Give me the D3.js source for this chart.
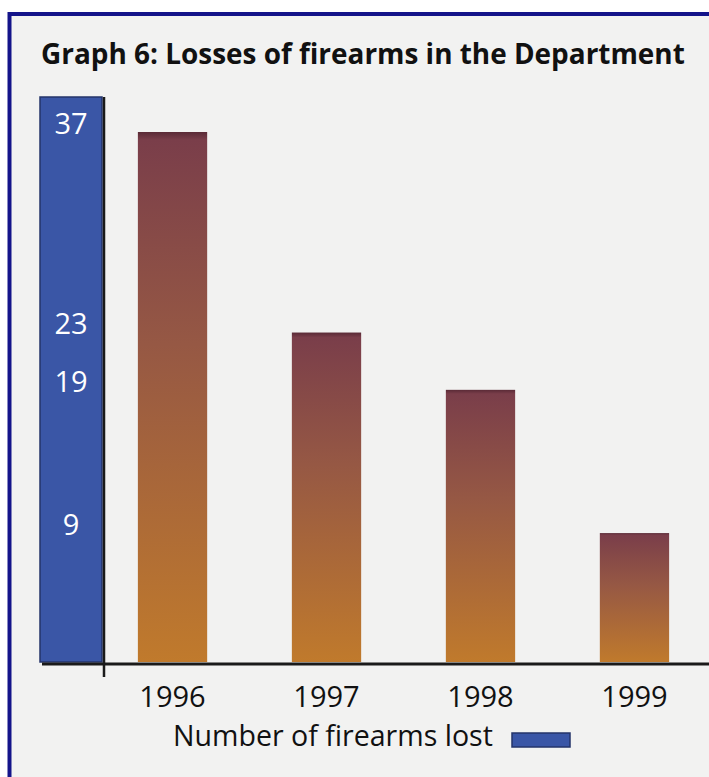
<!DOCTYPE html>
<html>
<head>
<meta charset="utf-8">
<script src="https://cdn.jsdelivr.net/npm/d3@7"></script>
<style>
  html, body { margin: 0; padding: 0; background: #ffffff; }
  svg { display: block; }
</style>
</head>
<body>
<script>
// Firearms lost per year
const years = ["1996", "1997", "1998", "1999"];
const firearmsLost = [37, 23, 19, 9];
const tickValues = [37, 23, 19, 9];
const titleText = "Graph 6: Losses of firearms in the Department";
const legendText = "Number of firearms lost";

const W = 709, H = 777;
const font = "'Open Sans', 'Noto Sans', sans-serif";

const svg = d3.select("body").append("svg")
  .attr("width", W).attr("height", H);

// Scale a text's font size so that it spans the given width
function fitWidth(sel, width) {
  const node = sel.node();
  const fs = parseFloat(sel.attr("font-size"));
  const w = node.getComputedTextLength();
  if (w > 0) sel.attr("font-size", (fs * width / w).toFixed(2));
  return sel;
}

const defs = svg.append("defs");
const grad = defs.append("linearGradient")
  .attr("id", "barFill")
  .attr("x1", 0).attr("y1", 0).attr("x2", 0).attr("y2", 1);
grad.append("stop").attr("offset", "0%").attr("stop-color", "#5a2a36");
grad.append("stop").attr("offset", "1.5%").attr("stop-color", "#7a3e4a");
grad.append("stop").attr("offset", "40%").attr("stop-color", "#965844");
grad.append("stop").attr("offset", "100%").attr("stop-color", "#c07a2c");

// Page panel with the navy frame on top and left
svg.append("rect")
  .attr("x", 8).attr("y", 12).attr("width", W - 8).attr("height", H - 12)
  .attr("fill", "#f2f2f1");
svg.append("line")
  .attr("x1", 8).attr("x2", W).attr("y1", 14).attr("y2", 14)
  .attr("stroke", "#14148a").attr("stroke-width", 4);
svg.append("line")
  .attr("x1", 9.5).attr("x2", 9.5).attr("y1", 12).attr("y2", H)
  .attr("stroke", "#14148a").attr("stroke-width", 4);

// Title
const title = svg.append("text")
  .attr("x", 41).attr("y", 64)
  .attr("font-family", font).attr("font-weight", 700)
  .attr("font-size", 26).attr("fill", "#111111")
  .text(titleText);
fitWidth(title, 644);

// Scales
const baseY = 662;
const y = d3.scaleLinear().domain([0, 37]).range([baseY, 132]);
const x = d3.scaleBand().domain(years)
  .range([104, 703]).paddingInner(0.55).paddingOuter(0.22);

// Blue value column acting as the y axis
const axisCol = { x0: 40, x1: 102, top: 97 };
svg.append("rect")
  .attr("x", axisCol.x0).attr("y", axisCol.top)
  .attr("width", axisCol.x1 - axisCol.x0).attr("height", baseY - axisCol.top)
  .attr("fill", "#3a56a6").attr("stroke", "#24346a").attr("stroke-width", 1.5);

const yAxis = d3.axisLeft(y).tickValues(tickValues).tickSize(0).tickPadding(0);
const gy = svg.append("g")
  .attr("transform", `translate(${(axisCol.x0 + axisCol.x1) / 2},-8)`)
  .call(yAxis);
gy.select(".domain").remove();
gy.selectAll("text")
  .attr("text-anchor", "middle").attr("x", 0)
  .attr("font-family", font).attr("font-size", 29)
  .attr("fill", "#ffffff");

// Bars
svg.append("g").selectAll("rect")
  .data(years.map((yr, i) => ({ yr, v: firearmsLost[i] })))
  .join("rect")
  .attr("x", d => x(d.yr))
  .attr("y", d => y(d.v))
  .attr("width", x.bandwidth())
  .attr("height", d => baseY - y(d.v))
  .attr("fill", "url(#barFill)");

// Baseline and axis tick
svg.append("line")
  .attr("x1", 42).attr("x2", W).attr("y1", baseY + 2).attr("y2", baseY + 2)
  .attr("stroke", "#1a1a1a").attr("stroke-width", 3);
svg.append("line")
  .attr("x1", 104).attr("x2", 104).attr("y1", axisCol.top).attr("y2", baseY + 15)
  .attr("stroke", "#1a1a1a").attr("stroke-width", 2.5);

// Year labels
const xAxis = d3.axisBottom(x).tickSize(0).tickPadding(0);
const gx = svg.append("g")
  .attr("transform", `translate(0,${baseY})`)
  .call(xAxis);
gx.select(".domain").remove();
gx.selectAll("text")
  .attr("dy", null).attr("y", 45)
  .attr("font-family", font).attr("font-size", 29)
  .attr("fill", "#111111");

// Legend
const leg = svg.append("g");
const lt = leg.append("text")
  .attr("x", 173).attr("y", 746)
  .attr("font-family", font).attr("font-size", 27)
  .attr("fill", "#111111")
  .text(legendText);
fitWidth(lt, 320);
leg.append("rect")
  .attr("x", 512).attr("y", 733).attr("width", 58).attr("height", 14)
  .attr("fill", "#3a56a6").attr("stroke", "#24346a").attr("stroke-width", 1.5);
</script>
</body>
</html>
